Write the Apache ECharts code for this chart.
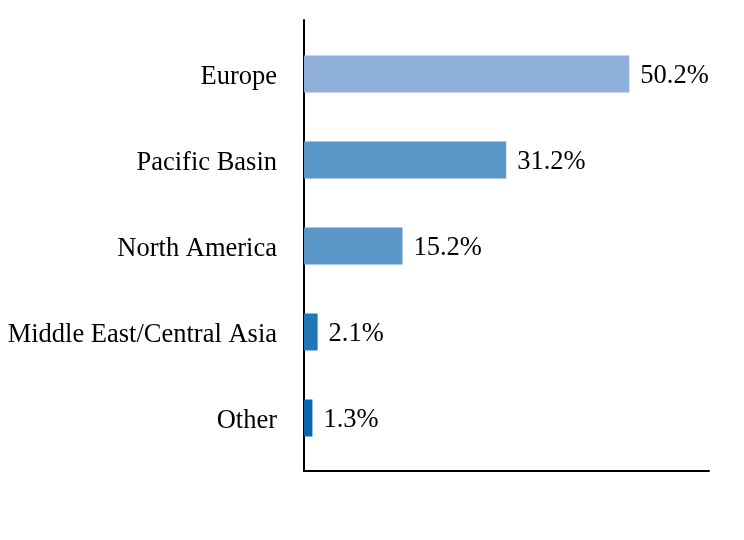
<!DOCTYPE html>
<html lang="en">
<head>
    <meta charset="UTF-8">
    <title>Region breakdown</title>
    <script src="https://cdn.jsdelivr.net/npm/echarts@6/dist/echarts.min.js"></script>
    <style>
        html, body { margin: 0; padding: 0; background: #fff; }
    </style>
</head>
<body>
<div id="main" style="width: 744px;height:540px;"></div>
<script>
    var regions = ['Europe', 'Pacific Basin', 'North America', 'Middle East/Central Asia', 'Other'];
    var shares = [50.2, 31.2, 15.2, 2.1, 1.3];
    var barColors = ['#8EAFD9', '#5B96C8', '#5B96C8', '#1F77B8', '#0A66AE'];

    var font = '"Liberation Serif", "Times New Roman", serif';
    var myChart = echarts.init(document.getElementById('main'));

    myChart.setOption({
        animation: false,
        grid: [
            // bars
            {left: 304, right: 35, top: 31, height: 430},
            // frame (axis lines only)
            {left: 304, right: 35, top: 20, bottom: 69}
        ],
        xAxis: [
            {gridIndex: 0, type: 'value', min: 0, max: 62.5, show: false},
            {
                gridIndex: 1, type: 'value', min: 0, max: 1,
                axisLine: {show: true, lineStyle: {color: '#000', width: 2}},
                axisTick: {show: false}, axisLabel: {show: false}, splitLine: {show: false}
            }
        ],
        yAxis: [
            {
                gridIndex: 0, type: 'category', data: regions, inverse: true,
                axisLine: {show: false}, axisTick: {show: false},
                axisLabel: {
                    margin: 27,
                    formatter: function (v) { return '{t|' + v + '}'; },
                    rich: {t: {color: '#000', fontFamily: font, fontSize: 26.5, padding: [6, 0, 0, 0]}}
                }
            },
            {
                gridIndex: 1, type: 'value', min: 0, max: 1,
                axisLine: {show: true, lineStyle: {color: '#000', width: 2}},
                axisTick: {show: false}, axisLabel: {show: false}, splitLine: {show: false}
            }
        ],
        series: [{
            type: 'bar',
            xAxisIndex: 0,
            yAxisIndex: 0,
            barWidth: 37,
            data: shares.map(function (v, i) {
                return {value: v, itemStyle: {color: barColors[i]}};
            }),
            label: {
                show: true,
                position: 'right',
                distance: 11,
                offset: [0, 2],
                color: '#000',
                fontFamily: font,
                fontSize: 26.5,
                formatter: function (p) { return p.value.toFixed(1) + '%'; }
            }
        }]
    });
</script>
</body>
</html>
